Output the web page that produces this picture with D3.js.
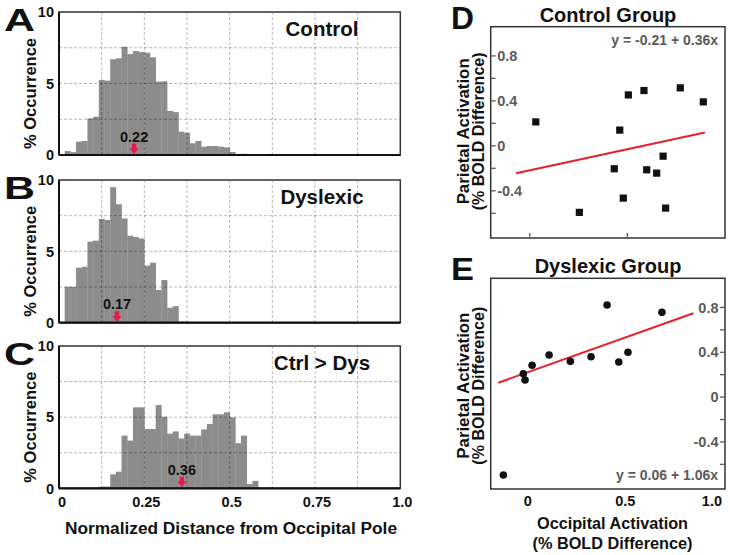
<!DOCTYPE html>
<html><head><meta charset="utf-8">
<script src="https://cdn.jsdelivr.net/npm/d3@7"></script>
<style>
body{margin:0;background:#fff;}
text{font-family:"Liberation Sans",Arial,Helvetica,sans-serif;font-weight:bold;}
</style>
</head><body>
<svg id="chart" width="730" height="555"></svg>
<script>
// ---------- DATA ----------
const binWidth = 1 / 60;
const controlHist  = [0, 0.28, 0.2, 0.93, 0.98, 2.56, 2.68, 5.24, 5.2, 6.7, 6.76, 7.57, 7.06, 7.27, 7.2, 7.15, 6.83, 5.13, 5.15, 3.08, 3.0, 1.63, 1.56, 0.82, 0.98, 0.58, 0.63, 0.63, 0.58, 0.53, 0.21, 0.07, 0.09];
const dyslexicHist = [0, 2.52, 2.52, 3.85, 3.92, 5.68, 5.75, 7.27, 7.2, 9.5, 8.3, 7.3, 6.1, 6.0, 5.9, 4.0, 4.2, 2.29, 2.99, 1.05, 1.16, 0.07, 0.07];
const ctrlDysHist  = [0, 0, 0, 0, 0, 0, 0, 0.12, 0.12, 0.98, 1.17, 3.7, 3.35, 5.69, 5.69, 4.17, 4.17, 5.85, 5.03, 3.84, 4.0, 3.5, 3.84, 3.7, 3.7, 4.14, 4.52, 5.2, 5.2, 5.34, 4.99, 3.17, 3.7, 0.3, 0.52];
const histTitles   = ["Control", "Dyslexic", "Ctrl > Dys"];
const histLetters  = ["A", "B", "C"];
const histMedians  = [0.22, 0.17, 0.36];
const histMedianLabels = ["0.22", "0.17", "0.36"];
const histXTicks   = [0, 0.25, 0.5, 0.75, 1.0];
const histXTickLabels = ["0", "0.25", "0.5", "0.75", "1.0"];
const histXGrid    = [0.125, 0.25, 0.375, 0.5, 0.625, 0.75, 0.875];
const histYTicks   = [0, 5, 10];
const histYGrid    = [2.5, 5, 7.5];
const histXTitle   = "Normalized Distance from Occipital Pole";
const histYTitle   = "% Occurrence";

const controlX = [0.031, 0.254, 0.433, 0.461, 0.479, 0.505, 0.585, 0.599, 0.650, 0.683, 0.696, 0.771, 0.889];
const controlY = [0.213, -0.592, -0.204, 0.14, -0.465, 0.453, 0.492, -0.213, -0.243, -0.092, -0.554, 0.516, 0.391];
const dyslexicX = [-0.135, -0.033, -0.024, 0.012, 0.099, 0.208, 0.314, 0.396, 0.456, 0.503, 0.677];
const dyslexicY = [-0.695, 0.209, 0.153, 0.284, 0.376, 0.319, 0.360, 0.822, 0.313, 0.400, 0.756];
const controlFitX = [-0.07, 0.897];
const controlFitY = [-0.243, 0.119];
const dyslexicFitX = [-0.161, 0.838];
const dyslexicFitY = [0.128, 0.748];
const scatterTitles = ["Control Group", "Dyslexic Group"];
const scatterLetters = ["D", "E"];
const scatterEquations = ["y = -0.21 + 0.36x", "y = 0.06 + 1.06x"];
const scatterYTicks = [-0.4, 0, 0.4, 0.8];
const scatterYTickLabels = ["-0.4", "0", "0.4", "0.8"];
const scatterYMinor = [-0.6, -0.2, 0.2, 0.6];
const scatterXTicks = [0, 0.5, 1.0];
const scatterXTickLabels = ["0", "0.5", "1.0"];
const scatterYTitle = ["Parietal Activation", "(% BOLD Difference)"];
const scatterXTitle = ["Occipital Activation", "(% BOLD Difference)"];

// ---------- DRAW ----------
const svg = d3.select("#chart");
const red = "#e8194b";

// Histograms
const hx = d3.scaleLinear().domain([0, 1]).range([59, 400.3]);
const histPanels = [
  {data: controlHist, top: 12, bottom: 155},
  {data: dyslexicHist, top: 180, bottom: 322.7},
  {data: ctrlDysHist, top: 346, bottom: 488.3}
];
histPanels.forEach((p, i) => {
  const hy = d3.scaleLinear().domain([0, 10]).range([p.bottom, p.top]);
  const g = svg.append("g");
  g.append("rect").attr("x", hx(0)).attr("y", hy(10))
    .attr("width", hx(1) - hx(0)).attr("height", hy(0) - hy(10))
    .attr("fill", "#fff");
  // bars
  g.selectAll("rect.bar").data(p.data).enter().append("rect")
    .attr("class", "bar")
    .attr("x", (d, k) => hx(k * binWidth))
    .attr("width", (d, k) => hx((k + 1) * binWidth) - hx(k * binWidth) + 0.3)
    .attr("y", d => hy(d))
    .attr("height", d => hy(0) - hy(d))
    .attr("fill", "#8c8c8c");
  // grid on top
  g.selectAll("line.vg").data(histXGrid).enter().append("line")
    .attr("x1", d => hx(d)).attr("x2", d => hx(d))
    .attr("y1", hy(10)).attr("y2", hy(0))
    .attr("stroke", "rgba(0,0,0,0.28)").attr("stroke-width", 1).attr("stroke-dasharray", "3,2");
  g.selectAll("line.hg").data(histYGrid).enter().append("line")
    .attr("x1", hx(0)).attr("x2", hx(1))
    .attr("y1", d => hy(d)).attr("y2", d => hy(d))
    .attr("stroke", "rgba(0,0,0,0.28)").attr("stroke-width", 1).attr("stroke-dasharray", "3,2");
  // frame
  g.append("rect").attr("x", hx(0)).attr("y", hy(10))
    .attr("width", hx(1) - hx(0)).attr("height", hy(0) - hy(10))
    .attr("fill", "none").attr("stroke", "#333").attr("stroke-width", 1.5);
  g.append("line").attr("x1", hx(0)).attr("x2", hx(1)).attr("y1", hy(0)).attr("y2", hy(0))
    .attr("stroke", "#111").attr("stroke-width", 2.2);
  g.append("line").attr("x1", hx(0)).attr("x2", hx(0)).attr("y1", hy(10)).attr("y2", hy(0))
    .attr("stroke", "#111").attr("stroke-width", 2);
  // y tick labels
  g.selectAll("text.yt").data(histYTicks).enter().append("text")
    .attr("x", 54).attr("y", d => hy(d)).attr("dy", "0.36em")
    .attr("text-anchor", "end").attr("font-size", 14.5).attr("fill", "#111")
    .text(d => d);
  // title
  g.append("text").attr("x", 322).attr("y", p.top + 24)
    .attr("text-anchor", "middle").attr("font-size", 20.5).attr("fill", "#111")
    .text(histTitles[i]);
  // letter
  g.append("text").attr("x", 4).attr("y", p.top + 19)
    .attr("font-size", 32).attr("fill", "#111")
    .attr("textLength", 31).attr("lengthAdjust", "spacingAndGlyphs")
    .text(histLetters[i]);
  // y title
  g.append("text")
    .attr("transform", `translate(36,${(p.top + p.bottom) / 2 + 10}) rotate(-90)`)
    .attr("text-anchor", "middle").attr("font-size", 16.5).attr("fill", "#111")
    .text(histYTitle);
  // median arrow
  const mx = hx(histMedians[i]), by = hy(0);
  const arrow = `M${mx - 2.2},${by - 11.5} L${mx + 2.2},${by - 11.5} L${mx + 2.2},${by - 6.7} L${mx + 4.5},${by - 6.7} L${mx},${by - 1} L${mx - 4.5},${by - 6.7} L${mx - 2.2},${by - 6.7} Z`;
  g.append("path").attr("d", arrow).attr("fill", red);
  g.append("text").attr("x", mx).attr("y", by - 13.5)
    .attr("text-anchor", "middle").attr("font-size", 14.5).attr("fill", "#111")
    .text(histMedianLabels[i]);
  if (i === 2) {
    g.selectAll("text.xt").data(histXTicks).enter().append("text")
      .attr("x", d => hx(d) + (d === 0 ? 3 : 2)).attr("y", by + 19)
      .attr("text-anchor", "middle").attr("font-size", 14.5).attr("fill", "#111")
      .text((d, k) => histXTickLabels[k]);
  }
});
svg.append("text").attr("x", 231).attr("y", 534)
  .attr("text-anchor", "middle").attr("font-size", 16).attr("fill", "#111")
  .attr("textLength", 332).attr("lengthAdjust", "spacingAndGlyphs")
  .text(histXTitle);

// Scatter panels
const sx = d3.scaleLinear().domain([-0.2, 1.0]).range([490.7, 725]);
const scatterPanels = [
  {xs: controlX, ys: controlY, fx: controlFitX, fy: controlFitY, top: 26.7, bottom: 238, side: "left", marker: "square"},
  {xs: dyslexicX, ys: dyslexicY, fx: dyslexicFitX, fy: dyslexicFitY, top: 278.3, bottom: 489, side: "right", marker: "circle"}
];
const gray = "#5a5a5a";
scatterPanels.forEach((p, i) => {
  const sy = d3.scaleLinear().domain([-0.82, 1.06]).range([p.bottom, p.top]);
  const g = svg.append("g");
  const L = sx.range()[0], R = sx.range()[1];
  g.append("rect").attr("x", L).attr("y", p.top).attr("width", R - L).attr("height", p.bottom - p.top)
    .attr("fill", "none").attr("stroke", "#333").attr("stroke-width", 1.5);
  const ax = p.side === "left" ? L : R;
  const dir = p.side === "left" ? 1 : -1;
  g.selectAll("line.ymaj").data(scatterYTicks.concat(scatterYMinor)).enter().append("line")
    .attr("x1", ax).attr("x2", ax + dir * 5)
    .attr("y1", d => sy(d)).attr("y2", d => sy(d))
    .attr("stroke", gray).attr("stroke-width", 1.3);
  g.selectAll("text.yl").data(scatterYTicks).enter().append("text")
    .attr("x", ax + dir * 6.5).attr("y", d => sy(d)).attr("dy", "0.36em")
    .attr("text-anchor", p.side === "left" ? "start" : "end")
    .attr("font-size", 14.5).attr("fill", gray)
    .text((d, k) => scatterYTickLabels[k]);
  if (i === 0) {
    g.selectAll("line.xt").data(scatterXTicks.slice(0, 2)).enter().append("line")
      .attr("x1", d => sx(d)).attr("x2", d => sx(d))
      .attr("y1", p.bottom).attr("y2", p.bottom - 5)
      .attr("stroke", gray).attr("stroke-width", 1.3);
  } else {
    g.selectAll("text.xl").data(scatterXTicks).enter().append("text")
      .attr("x", d => d === 1 ? sx(d) - 3 : sx(d) - 2)
      .attr("y", p.bottom + 17)
      .attr("text-anchor", d => d === 1 ? "end" : "middle")
      .attr("font-size", 14.5).attr("fill", "#111")
      .text((d, k) => scatterXTickLabels[k]);
    g.append("text").attr("x", 612.5).attr("y", 528.5).attr("text-anchor", "middle")
      .attr("font-size", 17).attr("fill", "#111").attr("textLength", 151).attr("lengthAdjust", "spacingAndGlyphs")
      .text(scatterXTitle[0]);
    g.append("text").attr("x", 612.5).attr("y", 548.5).attr("text-anchor", "middle")
      .attr("font-size", 17).attr("fill", "#111").attr("textLength", 160).attr("lengthAdjust", "spacingAndGlyphs")
      .text(scatterXTitle[1]);
  }
  // fit line
  g.append("line")
    .attr("x1", sx(p.fx[0])).attr("y1", sy(p.fy[0]))
    .attr("x2", sx(p.fx[1])).attr("y2", sy(p.fy[1]))
    .attr("stroke", "#e8202a").attr("stroke-width", 2);
  // points
  const pts = p.xs.map((x, k) => [x, p.ys[k]]);
  if (p.marker === "square") {
    g.selectAll("rect.pt").data(pts).enter().append("rect")
      .attr("x", d => sx(d[0]) - 3.6).attr("y", d => sy(d[1]) - 3.6)
      .attr("width", 7.2).attr("height", 7.2).attr("fill", "#111");
  } else {
    g.selectAll("circle.pt").data(pts).enter().append("circle")
      .attr("cx", d => sx(d[0])).attr("cy", d => sy(d[1]))
      .attr("r", 3.8).attr("fill", "#111");
  }
  // equation
  g.append("text").attr("x", 718).attr("y", i === 0 ? p.top + 18 : p.bottom - 9)
    .attr("text-anchor", "end").attr("font-size", 14).attr("fill", gray)
    .text(scatterEquations[i]);
  // title
  g.append("text").attr("x", 608).attr("y", p.top - 5)
    .attr("text-anchor", "middle").attr("font-size", 20).attr("fill", "#111")
    .text(scatterTitles[i]);
  // letter
  g.append("text").attr("x", 451).attr("y", p.top + 2)
    .attr("font-size", 31).attr("fill", "#111")
    .attr("textLength", 23).attr("lengthAdjust", "spacingAndGlyphs")
    .text(scatterLetters[i]);
  // y title
  const cy = (p.top + p.bottom) / 2 + (i === 0 ? -1 : 2);
  g.append("text").attr("transform", `translate(469,${cy}) rotate(-90)`)
    .attr("text-anchor", "middle").attr("font-size", 16.5).attr("fill", "#111")
    .attr("textLength", 146).attr("lengthAdjust", "spacingAndGlyphs")
    .text(scatterYTitle[0]);
  g.append("text").attr("transform", `translate(484,${cy}) rotate(-90)`)
    .attr("text-anchor", "middle").attr("font-size", 16.5).attr("fill", "#111")
    .attr("textLength", 158).attr("lengthAdjust", "spacingAndGlyphs")
    .text(scatterYTitle[1]);
});
</script>
</body></html>
